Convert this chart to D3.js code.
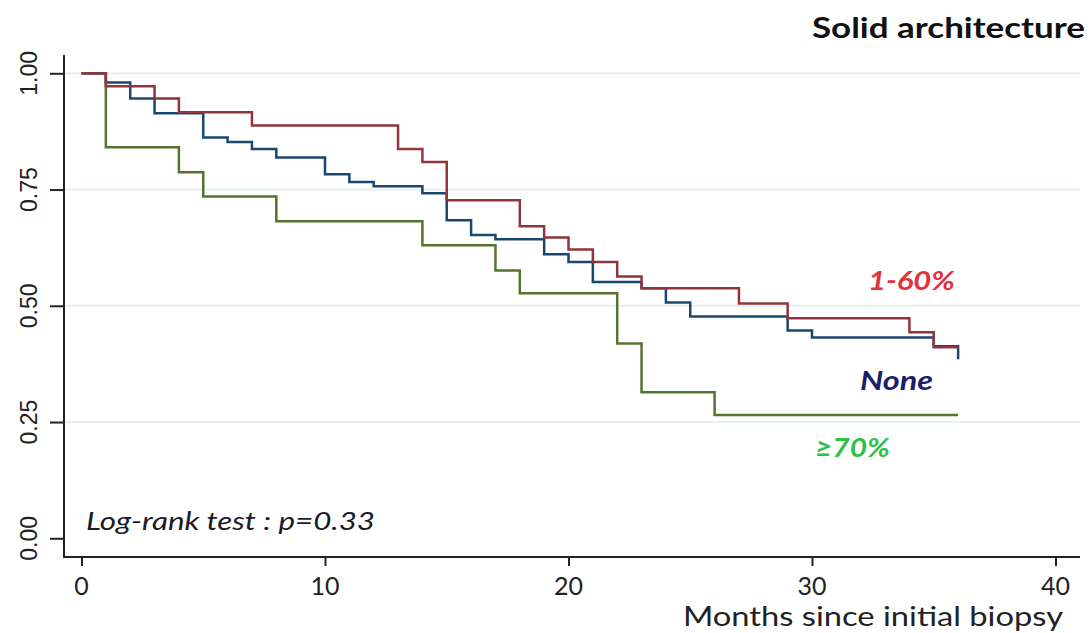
<!DOCTYPE html>
<html>
<head>
<meta charset="utf-8">
<script src="https://cdn.jsdelivr.net/npm/d3@7"></script>
<style>
  html, body { margin: 0; padding: 0; background: #fff; }
  svg { display: block; }
</style>
</head>
<body>
<svg id="chart" width="1092" height="633"></svg>
<script>
// ---- data ----
const seriesNames = ["None", "1-60%", "≥70%"];
const noneTimes  = [0, 1, 2, 3, 5, 6, 7, 8, 10, 11, 12, 14, 15, 16, 17, 19, 20, 21, 23, 24, 25, 29, 30, 35, 36];
const noneSurv   = [1, 0.980, 0.946, 0.914, 0.862, 0.852, 0.837, 0.819, 0.783, 0.766, 0.757, 0.742, 0.684, 0.652, 0.643, 0.611, 0.594, 0.551, 0.538, 0.507, 0.477, 0.447, 0.432, 0.413, 0.385];
const midTimes   = [0, 1, 3, 4, 7, 13, 14, 15, 18, 19, 20, 21, 22, 23, 27, 29, 34, 35, 36];
const midSurv    = [1, 0.972, 0.946, 0.916, 0.888, 0.837, 0.809, 0.727, 0.671, 0.647, 0.621, 0.594, 0.563, 0.538, 0.505, 0.473, 0.443, 0.411, 0.411];
const highTimes  = [0, 1, 4, 5, 8, 14, 17, 18, 22, 23, 26, 36];
const highSurv   = [1, 0.841, 0.787, 0.735, 0.682, 0.630, 0.576, 0.527, 0.419, 0.314, 0.265, 0.265];
const xTicks = [0, 10, 20, 30, 40];
const yTicks = [0, 0.25, 0.5, 0.75, 1];
const gridValues = [0.25, 0.5, 0.75, 1];
const titleText = "Solid architecture";
const xTitle = "Months since initial biopsy";
const noteText = "Log-rank test : p=0.33";

// ---- layout ----
const svg = d3.select("#chart");
const axisLeftX = 64, axisBottomY = 557, axisTopY = 55, axisRightX = 1080;
const x = d3.scaleLinear().domain([0, 40]).range([81.5, 1055.5]);
const y = d3.scaleLinear().domain([0, 1]).range([538.3, 73.3]);

// gridlines
svg.append("g").selectAll("line").data(gridValues).join("line")
  .attr("x1", axisLeftX + 1).attr("x2", axisRightX)
  .attr("y1", d => y(d)).attr("y2", d => y(d))
  .attr("stroke", "#e6eff1").attr("stroke-width", 2);

// y axis
const yAxis = d3.axisLeft(y).tickValues(yTicks).tickFormat(d3.format(".2f")).tickSize(14).tickPadding(0);
const gy = svg.append("g").attr("transform", `translate(${axisLeftX},0)`).call(yAxis);
gy.select(".domain").remove();
gy.selectAll(".tick line").attr("stroke", "#222").attr("stroke-width", 2);
gy.selectAll(".tick text").remove();
svg.append("line").attr("x1", axisLeftX).attr("x2", axisLeftX).attr("y1", axisTopY).attr("y2", axisBottomY + 1)
  .attr("stroke", "#222").attr("stroke-width", 2);
svg.append("g").selectAll("text").data(yTicks).join("text")
  .attr("transform", d => `translate(37,${y(d)}) rotate(-90)`)
  .attr("text-anchor", "middle")
  .attr("font-family", "Liberation Sans, Arial, sans-serif")
  .attr("font-size", 23)
  .attr("fill", "#222")
  .text(d => d3.format(".2f")(d));

// x axis
const xAxis = d3.axisBottom(x).tickValues(xTicks).tickSize(9).tickPadding(0).tickFormat(d3.format("d"));
const gx = svg.append("g").attr("transform", `translate(0,${axisBottomY})`).call(xAxis);
gx.select(".domain").remove();
gx.selectAll(".tick line").attr("stroke", "#222").attr("stroke-width", 2);
gx.selectAll(".tick text").remove();
svg.append("line").attr("x1", axisLeftX - 1).attr("x2", axisRightX).attr("y1", axisBottomY).attr("y2", axisBottomY)
  .attr("stroke", "#222").attr("stroke-width", 2);
svg.append("g").selectAll("text").data(xTicks).join("text")
  .attr("x", d => x(d)).attr("y", 595)
  .attr("text-anchor", "middle")
  .attr("font-family", "Lato, sans-serif")
  .attr("font-size", 25)
  .attr("fill", "#222")
  .text(d => d);

svg.append("text").attr("x", 683).attr("y", 626)
  .attr("textLength", 380).attr("lengthAdjust", "spacingAndGlyphs")
  .attr("font-family", "Lato, sans-serif").attr("font-size", 27).attr("fill", "#222")
  .text(xTitle);

// curves
const series = [
  { name: seriesNames[0], t: noneTimes, s: noneSurv, color: "#1a476f" },
  { name: seriesNames[1], t: midTimes,  s: midSurv,  color: "#90353b" },
  { name: seriesNames[2], t: highTimes, s: highSurv, color: "#55752f" }
];
const line = d3.line().x(d => x(d[0])).y(d => y(d[1])).curve(d3.curveStepAfter);
svg.append("g").selectAll("path").data([series[2], series[0], series[1]]).join("path")
  .attr("d", d => line(d.t.map((t, i) => [t, d.s[i]])))
  .attr("fill", "none").attr("stroke", d => d.color).attr("stroke-width", 2.5);

// labels
const labels = [
  { text: seriesNames[1], x: 32.3, v: 0.534, w: 87, color: "#e2323c" },
  { text: seriesNames[0], x: 31.97, v: 0.319, w: 73, color: "#1b1f6b" },
  { text: seriesNames[2], x: 30.12, v: 0.175, w: 75, color: "#2fc04a" }
];
svg.append("g").selectAll("text").data(labels).join("text")
  .attr("x", d => x(d.x)).attr("y", d => y(d.v))
  .attr("textLength", d => d.w).attr("lengthAdjust", "spacingAndGlyphs")
  .attr("font-family", "Lato, sans-serif").attr("font-weight", "bold").attr("font-style", "italic")
  .attr("font-size", 27).attr("fill", d => d.color)
  .text(d => d.text);

svg.append("text").attr("x", 86).attr("y", 530)
  .attr("textLength", 289).attr("lengthAdjust", "spacingAndGlyphs")
  .attr("font-family", "Lato, sans-serif").attr("font-style", "italic").attr("font-size", 25).attr("fill", "#1a1a2a")
  .text(noteText);

svg.append("text").attr("x", 812).attr("y", 38)
  .attr("textLength", 273).attr("lengthAdjust", "spacingAndGlyphs")
  .attr("font-family", "Lato, sans-serif").attr("font-weight", "bold").attr("font-size", 28).attr("fill", "#111")
  .text(titleText);
</script>
</body>
</html>
